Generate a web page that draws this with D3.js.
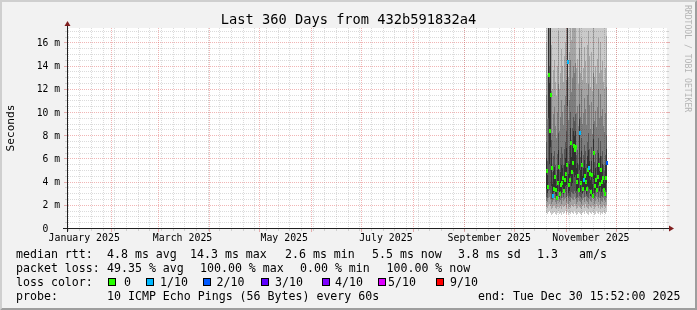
<!DOCTYPE html>
<html><head><meta charset="utf-8">
<script src="https://cdn.jsdelivr.net/npm/d3@7"></script>
<style>
html,body{margin:0;padding:0;background:#f2f2f2;}
svg{display:block;}
text{font-family:"DejaVu Sans Mono",monospace;white-space:pre;}
</style></head><body><svg id="c" width="697" height="310"></svg>
<script>
// ---------- data ----------
const title = "Last 360 Days from 432b591832a4";
const yAxisTitle = "Seconds";
const viewStart = new Date(2025, 0, 5, 15, 52);
const viewEnd = new Date(2025, 11, 31, 15, 52);
const yMaxMs = 17.25;
const yLabelValues = [0, 2, 4, 6, 8, 10, 12, 14, 16];
const yLabelTexts = ["0  ", "2 m", "4 m", "6 m", "8 m", "10 m", "12 m", "14 m", "16 m"];
const xLabelMonths = [new Date(2025,0,1), new Date(2025,2,1), new Date(2025,4,1), new Date(2025,6,1), new Date(2025,8,1), new Date(2025,10,1)];
const firstSample = new Date(2025, 9, 20, 1, 30);
const sampleHours = 14.4;

// median rtt per sample (ms)
const median = [4.9,3.5,13.2,8.4,11.5,5.2,2.8,3.4,4.4,3.3,2.6,3.9,5.3,2.9,3.7,3.9,4.3,3.2,4.1,4.7,5.4,14.3,3.7,4.1,7.3,4.8,5.6,7.1,6.7,7.0,4.0,4.5,3.3,8.2,3.9,5.4,3.4,4.1,4.5,4.0,3.4,5.0,5.2,4.7,3.1,4.6,2.8,6.5,3.6,4.1,3.3,4.4,5.4,3.8,5.0,4.0,4.3,3.3,2.9,4.3,5.6];
// lost pings (of 10) per sample
const loss = [0,0,0,0,0,0,1,0,0,0,0,0,0,0,0,0,0,0,0,0,0,1,0,0,0,0,0,0,0,0,0,0,0,1,0,0,0,1,0,0,0,0,1,0,0,0,0,0,0,0,0,0,0,0,0,0,0,0,0,0,2];
// sorted ping times (ms) per sample
const ping1 = [1.3,1.2,1.4,1.5,1.3,1.1,1.2,1.3,1.4,1.2,1.1,1.3,1.5,1.2,1.3,1.1,1.4,1.2,1.3,1.5,1.2,1.4,1.1,1.3,1.2,1.4,1.3,1.2,1.5,1.3,1.1,1.2,1.4,1.3,1.2,1.1,1.3,1.4,1.2,1.5,1.3,1.2,1.1,1.4,1.3,1.2,1.4,1.3,1.1,1.2,1.5,1.3,1.2,1.4,1.1,1.3,1.2,1.4,1.3,1.2,1.4];
const ping2 = [1.8,1.7,2.0,2.1,1.9,1.6,1.7,1.9,2.0,1.7,1.6,1.8,2.1,1.7,1.9,1.6,2.0,1.8,1.9,2.0,1.7,2.1,1.6,1.8,1.7,2.0,1.9,1.8,2.1,1.9,1.6,1.7,2.0,1.8,1.7,1.6,1.9,2.0,1.7,2.1,1.8,1.7,1.6,1.9,1.8,1.7,2.0,1.9,1.6,1.8,2.1,1.9,1.7,2.0,1.6,1.8,1.7,2.0,1.9,1.7,2.0];
const ping3 = [2.3,2.2,2.6,2.7,2.5,2.1,2.2,2.4,2.6,2.2,2.1,2.3,2.7,2.2,2.4,2.1,2.6,2.3,2.5,2.6,2.2,2.8,2.1,2.3,2.2,2.6,2.5,2.4,2.7,2.5,2.1,2.2,2.6,2.3,2.2,2.1,2.4,2.6,2.2,2.7,2.3,2.2,2.1,2.5,2.3,2.2,2.6,2.5,2.1,2.3,2.7,2.5,2.2,2.6,2.1,2.3,2.2,2.6,2.4,2.2,2.6];
const ping4 = [2.7,2.6,3.2,3.3,3.0,2.5,2.5,2.8,3.1,2.6,2.4,2.8,3.2,2.5,2.9,2.6,3.1,2.7,3.0,3.1,2.7,3.5,2.6,2.8,2.7,3.1,3.0,2.9,3.2,3.0,2.6,2.7,3.1,2.8,2.7,2.6,2.9,3.1,2.7,3.2,2.8,2.7,2.6,3.0,2.8,2.7,3.1,3.0,2.6,2.8,3.2,3.0,2.7,3.1,2.6,2.8,2.7,3.1,2.9,2.7,3.1];
const ping5 = [3.4,3.0,9.5,5.5,7.0,3.6,2.7,3.1,3.5,2.9,2.5,3.2,3.8,2.7,3.2,3.0,3.5,2.9,3.3,3.6,3.7,10.5,3.0,3.2,4.5,3.6,3.9,4.8,4.4,4.6,3.2,3.4,3.1,5.0,3.1,3.8,3.0,3.4,3.3,3.3,2.9,3.6,3.5,3.4,2.8,3.4,2.7,4.2,3.0,3.3,3.2,3.4,3.7,3.2,3.5,3.1,3.4,3.1,2.8,3.3,3.9];
const ping6 = [6.0,4.6,19.0,12.5,18.5,6.5,3.8,4.9,5.3,4.2,3.6,5.0,6.7,4.0,4.8,5.4,5.2,4.3,5.4,6.0,6.9,19.0,4.7,5.5,8.6,6.1,7.1,8.4,7.9,8.4,5.2,5.6,4.3,9.4,5.0,6.6,4.5,5.2,5.9,5.2,4.5,6.2,6.7,5.8,4.1,5.8,3.8,7.7,4.6,5.2,4.2,5.6,6.5,4.9,6.2,5.0,5.5,4.3,3.9,5.4,6.8];
const ping7 = [7.4,5.8,22,14,21,7.6,4.8,6.2,6.6,5.4,4.6,6.4,8.2,5.0,6.0,7.0,6.4,5.4,6.8,7.4,8.4,23,5.8,7.1,10.0,7.6,8.6,9.6,9.2,9.8,6.3,6.7,5.4,10.7,6.1,7.8,5.6,6.3,7.2,6.6,5.5,7.4,8.2,6.8,5.1,7.0,4.8,9.0,5.7,6.4,5.3,6.7,7.8,6.0,7.5,6.2,6.6,5.4,4.9,6.3,8.0];
const ping8 = [11.5,9.4,30,19,28,11.8,8.2,9.8,10.4,8.8,7.8,10.0,12.4,8.4,9.6,11.0,10.0,8.9,10.6,11.4,12.8,30,9.3,11.0,14.5,11.7,12.9,14.0,13.4,14.2,9.9,10.5,8.8,15.5,9.6,12.0,9.0,9.9,11.2,10.3,8.9,11.5,12.4,10.6,8.5,10.9,8.1,13.4,9.2,10.1,8.7,10.4,12.0,9.5,11.6,9.7,10.3,8.8,8.3,9.9,12.2];
const ping9 = [16,13.2,40,25,34,15.8,12,13.6,14.5,12.6,11.4,14,17,12,13.4,15.4,14,12.6,14.8,16,18,40,13,15.2,19.5,16.2,17.6,18.8,18,19.6,13.8,14.6,12.4,20.5,13.4,16.4,12.8,13.8,15.6,14.4,12.5,15.8,17,14.8,12.2,15.2,11.8,18,13,14,12.4,14.6,16.4,13.4,16,13.6,14.4,12.6,12,13.8,16.6];
const ping10 = [35,28,60,45,55,30,24,27,29,25,22,28,33,23,26,31,28,25,29,32,34,60,26,30,36,32,35,37,35,38,27,29,24,40,26,32,25,27,30,28,24,31,33,29,23,30,22,35,25,27,24,29,32,26,31,26,28,24,23,27,33];

const lossColors = ["#26ff00","#00b8ff","#0059ff","#5e00ff","#7e00ff","#dd00ff","#dd00ff","#dd00ff","#dd00ff","#ff0000","#ff0000"];
const legendLossLabels = ["0","1/10","2/10","3/10","4/10","5/10","9/10"];
const legendLossColors = ["#26ff00","#00b8ff","#0059ff","#5e00ff","#7e00ff","#dd00ff","#ff0000"];
const statsRtt = ["4.8 ms avg","14.3 ms max","2.6 ms min","5.5 ms now","3.8 ms sd","1.3","am/s"];
const statsLoss = ["49.35 % avg","100.00 % max","0.00 % min","100.00 % now"];
const probeText = "10 ICMP Echo Pings (56 Bytes) every 60s";
const endText = "end: Tue Dec 30 15:52:00 2025";

// ---------- drawing ----------
const W = 697, H = 310;
const X0 = 67, X1 = 667, Y0 = 228, Y1 = 28;
const svg = d3.select("#c");
const x = d3.scaleTime().domain([viewStart, viewEnd]).range([X0, X1]);
const y = d3.scaleLinear().domain([0, yMaxMs]).range([Y0, Y1]);

// background + 3d border
svg.append("rect").attr("width", W).attr("height", H).attr("fill", "#f2f2f2");
svg.append("path").attr("d", `M0,${H} L2,${H-2} L2,2 L${W-2},2 L${W},0 L0,0 Z`).attr("fill", "#cfcfcf");
svg.append("path").attr("d", `M2,${H-2} L${W-2},${H-2} L${W-2},2 L${W},0 L${W},${H} L0,${H} Z`).attr("fill", "#9e9e9e");
// canvas
svg.append("rect").attr("x", X0).attr("y", Y1).attr("width", X1 - X0).attr("height", Y0 - Y1).attr("fill", "#ffffff");

// smoke
const samples = median.map((m, i) => ({
  t: new Date(firstSample.getTime() + i * sampleHours * 3600e3),
  p: [ping1[i], ping2[i], ping3[i], ping4[i], ping5[i], ping6[i], ping7[i], ping8[i], ping9[i], ping10[i]],
  med: m, loss: loss[i]
}));
const smokeCols = ["#cacaca", "#a4a4a4", "#7e7e7e", "#585858", "#323232"];
svg.append("clipPath").attr("id", "plotclip").append("rect").attr("x", X0).attr("y", Y1).attr("width", X1 - X0).attr("height", Y0 - Y1);
const gData = svg.append("g").attr("clip-path", "url(#plotclip)").attr("shape-rendering", "crispEdges");
const stepMs = sampleHours * 3600e3;
samples.forEach(s => {
  const xa = Math.round(x(s.t)), xb = Math.round(x(new Date(s.t.getTime() + stepMs)));
  const w = Math.max(1, xb - xa);
  for (let k = 0; k < 5; k++) {
    const lo = s.p[k], hi = s.p[9 - k];
    const ya = Math.round(y(Math.min(hi, yMaxMs + 1))), yb = Math.round(y(lo));
    gData.append("rect").attr("x", xa).attr("y", ya).attr("width", w).attr("height", Math.max(0, yb - ya)).attr("fill", smokeCols[k]);
  }
});
samples.forEach(s => {
  const xa = Math.round(x(s.t)), xb = Math.round(x(new Date(s.t.getTime() + stepMs)));
  const w = Math.max(1, xb - xa);
  const ym = Math.round(y(s.med));
  gData.append("rect").attr("x", xa).attr("y", ym - 2).attr("width", w + 1).attr("height", 4).attr("fill", lossColors[s.loss]);
});

// grid
const gridCol = "rgba(143,143,143,0.32)", mgridCol = "rgba(222,79,79,0.42)";
const gGrid = svg.append("g").attr("shape-rendering", "crispEdges").style("mix-blend-mode", "multiply");
const yMinor = d3.range(0, yMaxMs, 0.5).filter(v => v > 0);
yMinor.forEach(v => {
  const major = yLabelValues.includes(v);
  const yy = Math.round(y(v)) + 0.5;
  gGrid.append("line").attr("x1", X0 + 1).attr("x2", X1).attr("y1", yy).attr("y2", yy)
    .attr("stroke", major ? mgridCol : gridCol).attr("stroke-dasharray", "1,1");
  gGrid.append("line").attr("x1", X0 - (major ? 3 : 2)).attr("x2", X0).attr("y1", yy).attr("y2", yy).attr("stroke", major ? mgridCol : gridCol);
  gGrid.append("line").attr("x1", X1).attr("x2", X1 + (major ? 3 : 2)).attr("y1", yy).attr("y2", yy).attr("stroke", major ? mgridCol : gridCol);
});
const weeks = d3.timeMonday.range(viewStart, viewEnd);
const months = d3.timeMonth.range(viewStart, viewEnd);
weeks.forEach(d => {
  const xx = Math.round(x(d)) + 0.5;
  gGrid.append("line").attr("x1", xx).attr("x2", xx).attr("y1", Y1).attr("y2", Y0 - 1).attr("stroke", gridCol).attr("stroke-dasharray", "1,1");
  gGrid.append("line").attr("x1", xx).attr("x2", xx).attr("y1", Y0 + 1).attr("y2", Y0 + 3).attr("stroke", gridCol);
});
months.forEach(d => {
  const xx = Math.round(x(d)) + 0.5;
  gGrid.append("line").attr("x1", xx).attr("x2", xx).attr("y1", Y1).attr("y2", Y0 - 1).attr("stroke", mgridCol).attr("stroke-dasharray", "1,1");
  gGrid.append("line").attr("x1", xx).attr("x2", xx).attr("y1", Y0 + 1).attr("y2", Y0 + 4).attr("stroke", mgridCol);
});

// axes
svg.append("line").attr("x1", X0 - 4).attr("x2", X1 + 4).attr("y1", Y0 + 0.5).attr("y2", Y0 + 0.5).attr("stroke", "#1f1f1f").attr("shape-rendering", "crispEdges");
svg.append("line").attr("x1", X0 + 0.5).attr("x2", X0 + 0.5).attr("y1", Y0 + 4).attr("y2", Y1 - 4).attr("stroke", "#1f1f1f").attr("shape-rendering", "crispEdges");
svg.append("path").attr("d", `M${X1+2},${Y0-2.5} L${X1+2},${Y0+3.5} L${X1+7},${Y0+0.5} Z`).attr("fill", "#801f1f");
svg.append("path").attr("d", `M${X0-2.5},${Y1-2} L${X0+3.5},${Y1-2} L${X0+0.5},${Y1-7} Z`).attr("fill", "#801f1f");

// y labels
yLabelValues.forEach((v, i) => {
  svg.append("text").attr("x", 60).attr("y", y(v) + 3.5).attr("text-anchor", "end")
    .attr("font-size", 9.7).attr("fill", "#000").text(yLabelTexts[i]);
});
// x labels
const fmt = d3.timeFormat("%B %Y");
xLabelMonths.forEach(d => {
  svg.append("text").attr("x", x(d3.timeDay.offset(d, 15))).attr("y", 241).attr("text-anchor", "middle")
    .attr("font-size", 9.9).attr("fill", "#000").text(fmt(d));
});
// title
svg.append("text").attr("x", 348.5).attr("y", 24).attr("text-anchor", "middle").attr("font-size", 13.7).attr("fill", "#000").text(title);
// y title
svg.append("text").attr("transform", `translate(14,${(Y0 + Y1) / 2}) rotate(-90)`).attr("text-anchor", "middle")
  .attr("font-size", 11.1).attr("fill", "#000").text(yAxisTitle);
// watermark
svg.append("text").attr("transform", `translate(685,5) rotate(90)`).attr("font-size", 8.1).attr("fill", "#b4b4b4").text("RRDTOOL / TOBI OETIKER");

// legend
const LF = 11.6;
const rows = [258, 272, 286, 300];
const leg = (tx, xx, yy) => svg.append("text").attr("x", xx).attr("y", yy).attr("font-size", LF).attr("fill", "#000").text(tx);
leg("median rtt:", 16, rows[0]);
const rttX = [107, 190, 285, 372, 458, 537, 579];
statsRtt.forEach((s, i) => leg(s, rttX[i], rows[0]));
leg("packet loss:", 16, rows[1]);
const lossX = [107, 200, 300, 386.5];
statsLoss.forEach((s, i) => leg(s, lossX[i], rows[1]));
leg("loss color:", 16, rows[2]);
const boxX = [108, 146, 203, 261, 321.5, 378, 435.5];
const labX = [124, 160, 216.5, 275, 335, 388, 450];
legendLossLabels.forEach((s, i) => {
  svg.append("rect").attr("x", boxX[i] + 0.5).attr("y", 278.5).attr("width", 7).attr("height", 7)
    .attr("fill", legendLossColors[i]).attr("stroke", "#000").attr("shape-rendering", "crispEdges");
  leg(s, labX[i], rows[2]);
});
leg("probe:", 16, rows[3]);
leg(probeText, 107, rows[3]);
leg(endText, 478, rows[3]);
</script></body></html>
